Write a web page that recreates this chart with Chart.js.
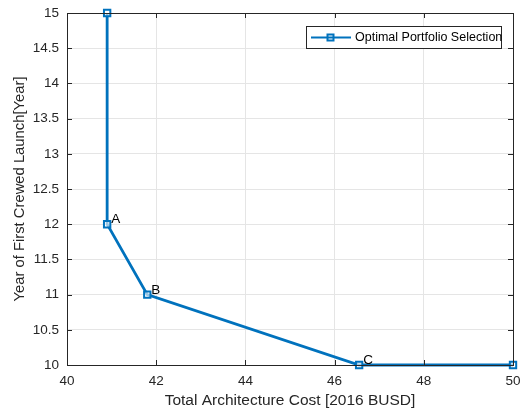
<!DOCTYPE html>
<html>
<head>
<meta charset="utf-8">
<script src="https://cdn.jsdelivr.net/npm/chart.js@4/dist/chart.umd.min.js"></script>
<style>
  html, body { margin: 0; padding: 0; background: #fff; }
  #wrap { width: 521px; height: 411px; position: relative; }
</style>
</head>
<body>
<div id="wrap"><canvas id="frontChart"></canvas></div>
<script>
// Pareto front data
const costs = [40.9, 40.9, 41.8, 46.55, 50];
const years = [15, 12, 11, 10, 10];
const pointTags = ['', 'A', 'B', 'C', ''];
const seriesName = 'Optimal Portfolio Selection';

const blue = '#0072BD';
const font = 'Liberation Sans, Arial, Helvetica, sans-serif';

// box, inward ticks, point letters and legend drawn by hand (matlab look)
const matlabAxes = {
    id: 'matlabAxes',
    afterDatasetsDraw(chart) {
        const ctx = chart.ctx;
        const a = chart.chartArea;
        const xs = chart.scales.x, ys = chart.scales.y;
        ctx.save();
        ctx.strokeStyle = '#262626';
        ctx.lineWidth = 1;
        ctx.strokeRect(Math.round(a.left) + 0.5, Math.round(a.top) + 0.5,
            Math.round(a.right - a.left), Math.round(a.bottom - a.top));
        ctx.beginPath();
        xs.ticks.forEach(t => {
            const px = Math.round(xs.getPixelForValue(t.value)) + 0.5;
            ctx.moveTo(px, a.bottom); ctx.lineTo(px, a.bottom - 5);
            ctx.moveTo(px, a.top); ctx.lineTo(px, a.top + 5);
        });
        ys.ticks.forEach(t => {
            const py = Math.round(ys.getPixelForValue(t.value)) + 0.5;
            ctx.moveTo(a.left, py); ctx.lineTo(a.left + 5, py);
            ctx.moveTo(a.right, py); ctx.lineTo(a.right - 5, py);
        });
        ctx.stroke();

        // letters next to points
        ctx.fillStyle = '#000';
        ctx.font = '13.5px ' + font;
        ctx.textAlign = 'left';
        ctx.textBaseline = 'bottom';
        costs.forEach((c, i) => {
            if (!pointTags[i]) return;
            ctx.fillText(pointTags[i], xs.getPixelForValue(c) + 4, ys.getPixelForValue(years[i]) + 2);
        });

        // legend box
        const lx = 306, ly = 26, lw = 195, lh = 22;
        ctx.fillStyle = '#fff';
        ctx.fillRect(lx, ly, lw, lh);
        ctx.strokeStyle = '#262626';
        ctx.lineWidth = 1;
        ctx.strokeRect(lx + 0.5, ly + 0.5, lw, lh);
        ctx.strokeStyle = blue;
        ctx.lineWidth = 2;
        ctx.beginPath();
        ctx.moveTo(lx + 5, ly + 11.5); ctx.lineTo(lx + 45, ly + 11.5);
        ctx.stroke();
        ctx.strokeRect(lx + 21.5, ly + 8.5, 6, 6);
        ctx.fillStyle = '#000';
        ctx.font = '12.5px ' + font;
        ctx.textBaseline = 'middle';
        ctx.fillText(seriesName, lx + 49, ly + 12);
        ctx.restore();
    }
};

const ctx = document.getElementById('frontChart').getContext('2d');
new Chart(ctx, {
    type: 'scatter',
    data: {
        datasets: [{
            label: seriesName,
            data: costs.map((c, i) => ({ x: c, y: years[i] })),
            showLine: true,
            borderColor: blue,
            borderWidth: 2.8,
            tension: 0,
            pointStyle: 'rect',
            pointRadius: 4.5,
            pointBorderWidth: 2,
            pointBorderColor: blue,
            pointBackgroundColor: 'rgba(255,255,255,0.6)',
            clip: false
        }]
    },
    options: {
        responsive: true,
        maintainAspectRatio: false,
        animation: false,
        layout: { padding: { left: 0, right: 8, top: 13, bottom: 0 } },
        plugins: {
            legend: { display: false },
            tooltip: { enabled: false }
        },
        scales: {
            x: {
                type: 'linear',
                min: 40, max: 50,
                ticks: { stepSize: 2, color: '#262626', font: { family: font, size: 13.5 }, padding: 8,
                         callback: v => String(v) },
                grid: { color: '#e5e5e5', drawTicks: false },
                border: { color: '#262626' },
                title: { display: true, text: 'Total Architecture Cost [2016 BUSD]', color: '#262626',
                         font: { family: font, size: 15.5 }, padding: { top: 2, bottom: 1 } },
                afterFit(s) { s.height = 46; s.paddingLeft = 0; s.paddingRight = 0; }
            },
            y: {
                type: 'linear',
                min: 10, max: 15,
                ticks: { stepSize: 0.5, color: '#262626', font: { family: font, size: 13.5 }, padding: 8,
                         callback: v => String(v) },
                grid: { color: '#e5e5e5', drawTicks: false },
                border: { color: '#262626' },
                title: { display: true, text: 'Year of First Crewed Launch[Year]', color: '#262626',
                         font: { family: font, size: 14.8 }, padding: { top: 11, bottom: 2 } },
                afterFit(s) { s.width = 67; s.paddingTop = 0; s.paddingBottom = 0; }
            }
        }
    },
    plugins: [matlabAxes]
});
</script>
</body>
</html>
